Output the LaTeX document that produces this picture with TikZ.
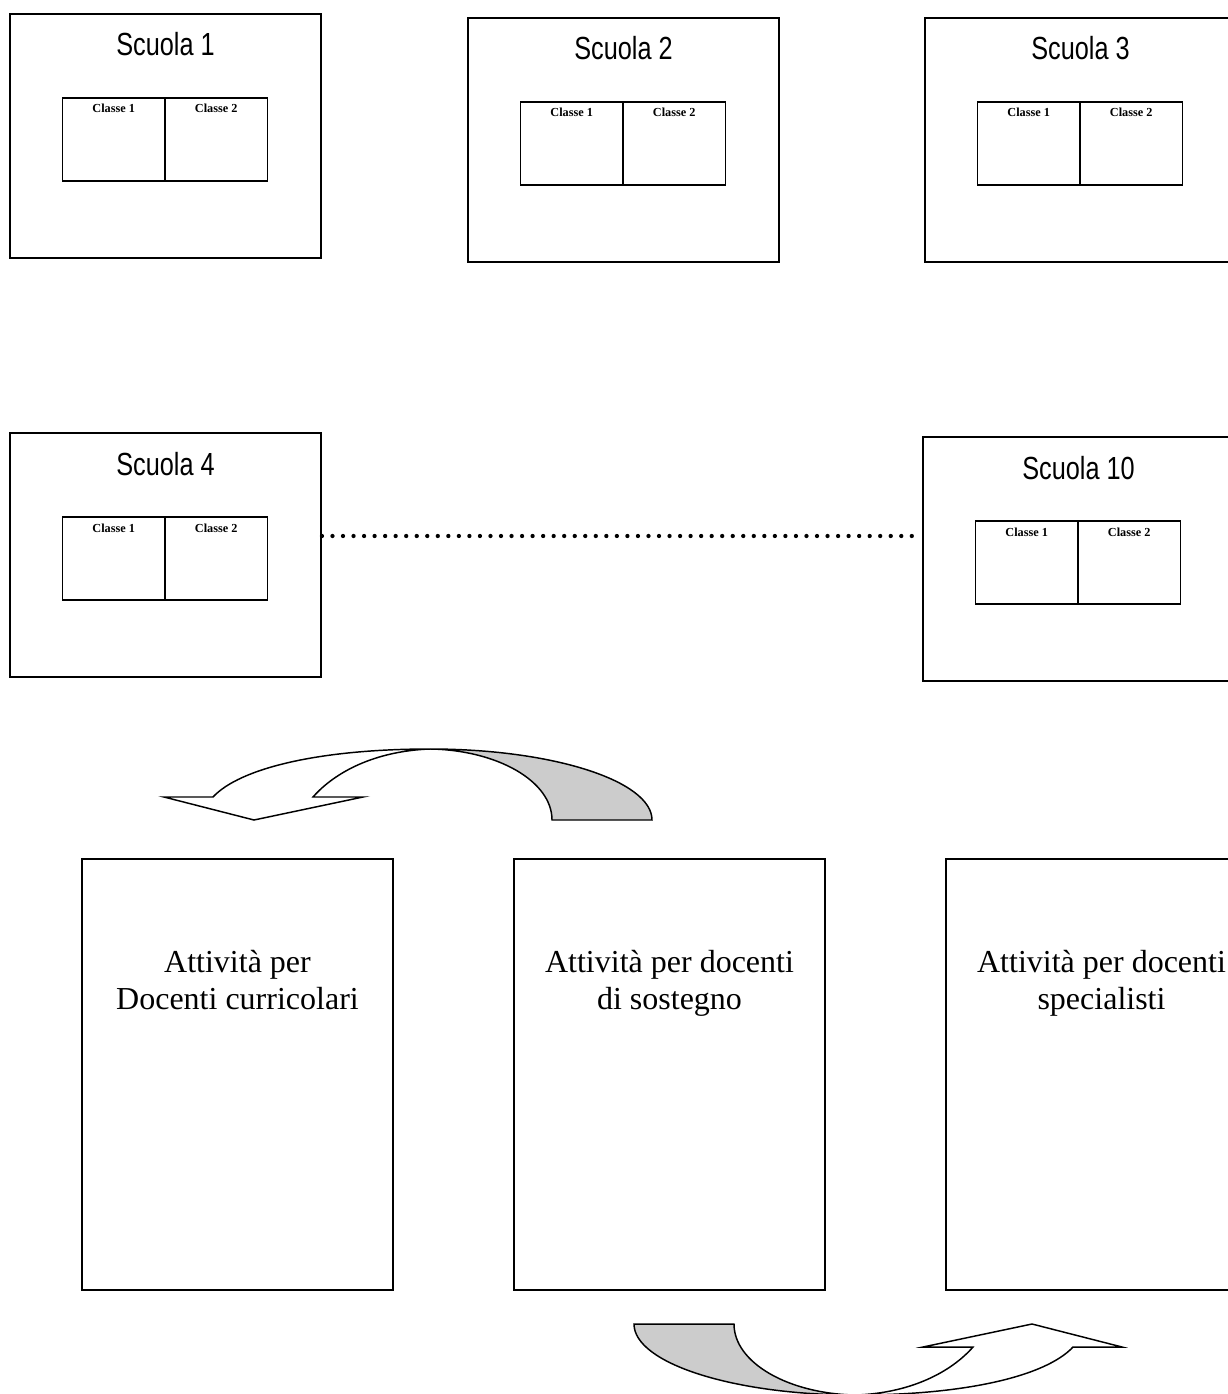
\documentclass[tikz,border=0pt]{standalone}
\usepackage{fontspec}
\setmainfont{Liberation Serif}
\newfontfamily\scuolaf[FakeStretch=0.79]{Liberation Sans}
\definecolor{arrowgray}{HTML}{CCCCCC}
\tikzset{
  schoolbox/.style={draw, line width=1.4pt, minimum width=233.25pt, minimum height=183pt, inner sep=0pt},
  classbox/.style={draw, line width=0.8pt, minimum width=76.875pt, minimum height=62.25pt, inner sep=0pt},
  actbox/.style={draw, line width=1.2pt, minimum width=233.25pt, minimum height=323.25pt, inner sep=0pt},
  titletext/.style={font=\scuolaf\fontsize{24}{28}\selectfont, anchor=base, inner sep=0pt},
  classlabel/.style={font=\bfseries\fontsize{9.2}{11}\selectfont, anchor=base, inner sep=0pt},
  acttext/.style={font=\fontsize{24}{28.5}\selectfont, anchor=base, inner sep=0pt},
  dotline/.style={line width=3.2pt, line cap=round, dash pattern=on 0pt off 7.9pt},
  curvedarrow/.pic={
    \draw[line width=1.1pt, fill=white, line join=miter]
      (164,797) -- (213,797) .. controls (240,768) and (320,749) .. (430,749)
      .. controls (375,751) and (335,772) .. (313,797) -- (363,797) -- (254,820) -- cycle;
    \draw[line width=1.1pt, fill=arrowgray, line join=miter]
      (430,749) .. controls (553,749) and (652,781) .. (652,820) -- (552,820)
      .. controls (552,781) and (497,750) .. (430,749) -- cycle;
  }
}
\begin{document}
\begin{tikzpicture}[x=0.75pt,y=-0.75pt]
\useasboundingbox (0,0) rectangle (1227,1394);
\fill[white] (0,0) rectangle (1227,1394);

% Scuola 1
\node[schoolbox] (s1) at (165.5,136) {};
\node[titletext] (t1) at (165.5,56) {Scuola 1};
\node[classbox] (s1c1) at (113.75,139.5) {};
\node[classbox] (s1c2) at (216.25,139.5) {};
\node[classlabel] (s1l1) at (113.75,113) {Classe 1};
\node[classlabel] (s1l2) at (216.25,113) {Classe 2};

% Scuola 2
\node[schoolbox] (s2) at (623.5,140) {};
\node[titletext] (t2) at (623.5,60) {Scuola 2};
\node[classbox] (s2c1) at (571.75,143.5) {};
\node[classbox] (s2c2) at (674.25,143.5) {};
\node[classlabel] (s2l1) at (571.75,117) {Classe 1};
\node[classlabel] (s2l2) at (674.25,117) {Classe 2};

% Scuola 3
\node[schoolbox] (s3) at (1080.5,140) {};
\node[titletext] (t3) at (1080.5,60) {Scuola 3};
\node[classbox] (s3c1) at (1028.75,143.5) {};
\node[classbox] (s3c2) at (1131.25,143.5) {};
\node[classlabel] (s3l1) at (1028.75,117) {Classe 1};
\node[classlabel] (s3l2) at (1131.25,117) {Classe 2};

% Scuola 4
\node[schoolbox] (s4) at (165.5,555) {};
\node[titletext] (t4) at (165.5,475) {Scuola 4};
\node[classbox] (s4c1) at (113.75,558.5) {};
\node[classbox] (s4c2) at (216.25,558.5) {};
\node[classlabel] (s4l1) at (113.75,532) {Classe 1};
\node[classlabel] (s4l2) at (216.25,532) {Classe 2};

% Scuola 10
\node[schoolbox] (s10) at (1078.5,559) {};
\node[titletext] (t10) at (1078.5,479) {Scuola 10};
\node[classbox] (s10c1) at (1026.75,562.5) {};
\node[classbox] (s10c2) at (1129.25,562.5) {};
\node[classlabel] (s10l1) at (1026.75,536) {Classe 1};
\node[classlabel] (s10l2) at (1129.25,536) {Classe 2};

% dotted connection
\coordinate (d1) at (s4.east |- 0,536);
\coordinate (d2) at (s10.west |- 0,536);
\draw[dotline] (d1) -- (d2);

% activity boxes
\node[actbox] (a1) at (237.5,1074.5) {};
\node[acttext] (a1t1) at (237.5,972) {Attività per};
\node[acttext] (a1t2) at (237.5,1009) {Docenti curricolari};

\node[actbox] (a2) at (669.5,1074.5) {};
\node[acttext] (a2t1) at (669.5,972) {Attività per docenti};
\node[acttext] (a2t2) at (669.5,1009) {di sostegno};

\node[actbox] (a3) at (1101.5,1074.5) {};
\node[acttext] (a3t1) at (1101.5,972) {Attività per docenti};
\node[acttext] (a3t2) at (1101.5,1009) {specialisti};

% curved arrows
\pic at (0,0) {curvedarrow};
\pic[rotate=180] at (1286,2144) {curvedarrow};
\end{tikzpicture}
\end{document}
